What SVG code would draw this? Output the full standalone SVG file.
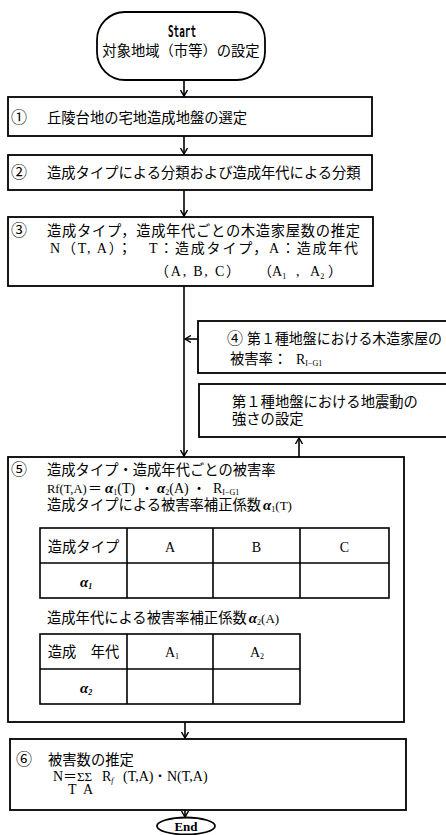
<svg xmlns="http://www.w3.org/2000/svg" width="446" height="835" viewBox="0 0 446 835">
<style>
.box{fill:none;stroke:#000;stroke-width:1.8}
.tb{fill:none;stroke:#000;stroke-width:1.6}
.ln{fill:none;stroke:#000;stroke-width:1.6}
.jp{font-family:"Noto Sans CJK JP","Noto Sans CJK SC",sans-serif;font-size:14.3px;fill:#000}
.num{font-family:"Noto Sans CJK JP","Noto Sans CJK SC",sans-serif;font-size:16px;fill:#000}
.se{font-family:"Liberation Serif","Noto Sans CJK JP",serif;font-size:14px;fill:#000}
.al{font-family:"Liberation Serif",serif;font-size:15px;font-style:italic;font-weight:bold;fill:#000}
.ali{font-family:"Liberation Serif",serif;font-style:italic;font-weight:bold}
.rm{font-family:"Liberation Serif",serif;font-style:normal;font-weight:normal;font-size:13px}
.sub{font-size:8px}
</style>
<defs>
<marker id="ah" markerWidth="8" markerHeight="8" refX="6" refY="4" orient="auto" markerUnits="userSpaceOnUse">
<path d="M0,0.5 L6,4 L0,7.5" fill="none" stroke="#000" stroke-width="1.4"/>
</marker>
</defs>
<rect width="446" height="835" fill="#fff"/>

<g id="connectors">
<line class="ln" x1="184" y1="80" x2="184" y2="96" marker-end="url(#ah)"/>
<line class="ln" x1="184" y1="136" x2="184" y2="154" marker-end="url(#ah)"/>
<line class="ln" x1="184" y1="190" x2="184" y2="216" marker-end="url(#ah)"/>
<line class="ln" x1="184" y1="286" x2="184" y2="456" marker-end="url(#ah)"/>
<line class="ln" x1="198" y1="339" x2="185" y2="339" marker-end="url(#ah)"/>
<line class="ln" x1="299" y1="457" x2="299" y2="438" marker-end="url(#ah)"/>
<line class="ln" x1="185" y1="722" x2="185" y2="738" marker-end="url(#ah)"/>
<line class="ln" x1="185" y1="810" x2="185" y2="817" marker-end="url(#ah)"/>
</g>

<g id="start">
<rect class="box" x="97" y="12" width="168" height="68" rx="28" ry="28"/>
<text x="182" y="37" text-anchor="middle" font-family="DejaVu Sans Mono,monospace" font-weight="bold" font-size="15" textLength="28" lengthAdjust="spacingAndGlyphs">Start</text>
<text class="jp" x="181" y="56" text-anchor="middle">対象地域（市等）の設定</text>
</g>

<g id="n1">
<rect class="box" x="8" y="97" width="364" height="39"/>
<text class="num" x="11" y="123">①</text>
<text class="jp" x="47" y="123">丘陵台地の宅地造成地盤の選定</text>
</g>

<g id="n2">
<rect class="box" x="8" y="155" width="364" height="35"/>
<text class="num" x="11" y="178">②</text>
<text class="jp" x="47" y="178">造成タイプによる分類および造成年代による分類</text>
</g>

<g id="n3">
<rect class="box" x="8" y="217" width="365" height="69"/>
<text class="num" x="11" y="236">③</text>
<text class="jp" x="47" y="236" textLength="313" lengthAdjust="spacing">造成タイプ，造成年代ごとの木造家屋数の推定</text>
<text class="se" x="50" y="253" font-size="14.3" textLength="308" lengthAdjust="spacing">N（T, A）；　T：造成タイプ，A：造成年代</text>
<text class="se" x="155" y="276" font-size="14.3" textLength="85" lengthAdjust="spacing">（A,  B,  C）</text>
<text class="se" y="276" font-size="14.3"><tspan x="258">（A</tspan><tspan class="sub" dy="3">1</tspan><tspan x="296" dy="-3">,</tspan><tspan x="310">A</tspan><tspan class="sub" dy="3">2</tspan><tspan x="328" dy="-3">）</tspan></text>
</g>

<g id="n4">
<rect class="box" x="198" y="321" width="260" height="52"/>
<text class="num" x="227" y="344">④</text>
<text class="jp" x="247" y="344" textLength="195" lengthAdjust="spacingAndGlyphs">第１種地盤における木造家屋の</text>
<text class="jp" y="364"><tspan x="230">被害率：</tspan><tspan x="296" font-family="Liberation Serif,serif" font-size="14">R</tspan><tspan font-family="Liberation Serif,serif" class="sub" dy="2">I−G1</tspan></text>
</g>

<g id="n4b">
<rect class="box" x="199" y="384" width="260" height="53"/>
<text class="jp" x="232" y="407">第１種地盤における地震動の</text>
<text class="jp" x="232" y="424">強さの設定</text>
</g>

<g id="n5">
<rect class="box" x="8" y="457" width="396" height="265"/>
<text class="num" x="11" y="475">⑤</text>
<text class="jp" x="47" y="475">造成タイプ・造成年代ごとの被害率</text>
<text class="se" y="493" font-size="13"><tspan x="47" font-size="12.5">Rf(T,A)</tspan><tspan x="88" font-size="14">＝</tspan><tspan x="105" class="ali" font-size="15">α</tspan><tspan class="sub" dy="2">1</tspan><tspan dy="-2">(T)</tspan><tspan x="140" font-family="Noto Sans CJK JP,sans-serif" font-size="14">・</tspan><tspan x="157" class="ali" font-size="15">α</tspan><tspan class="sub" dy="2">2</tspan><tspan dy="-2">(A)</tspan><tspan x="192" font-family="Noto Sans CJK JP,sans-serif" font-size="14">・</tspan><tspan x="213" font-size="14">R</tspan><tspan class="sub" dy="2">I−G1</tspan></text>
<text class="jp" x="47" y="510">造成タイプによる被害率補正係数<tspan class="ali" font-size="15" dx="2">α</tspan><tspan class="sub" font-family="Liberation Serif,serif" dy="2">1</tspan><tspan class="rm" dy="-2">(T)</tspan></text>

<g id="table1">
<rect class="tb" x="40" y="528" width="349" height="70"/>
<line class="tb" x1="40" y1="563" x2="389" y2="563"/>
<line class="tb" x1="127" y1="528" x2="127" y2="598"/>
<line class="tb" x1="213" y1="528" x2="213" y2="598"/>
<line class="tb" x1="300" y1="528" x2="300" y2="598"/>
<text class="jp" x="83.5" y="552" text-anchor="middle">造成タイプ</text>
<text class="se" x="170" y="552" text-anchor="middle" font-size="15">A</text>
<text class="se" x="256.5" y="552" text-anchor="middle" font-size="15">B</text>
<text class="se" x="344.5" y="552" text-anchor="middle" font-size="15">C</text>
<text class="al" x="80" y="587">α<tspan class="sub" dy="2">1</tspan></text>
</g>

<text class="jp" x="47" y="623">造成年代による被害率補正係数<tspan class="ali" font-size="15" dx="2">α</tspan><tspan class="sub" font-family="Liberation Serif,serif" dy="2">2</tspan><tspan class="rm" dy="-2">(A)</tspan></text>

<g id="table2">
<rect class="tb" x="40" y="634" width="260" height="70"/>
<line class="tb" x1="40" y1="669" x2="300" y2="669"/>
<line class="tb" x1="127" y1="634" x2="127" y2="704"/>
<line class="tb" x1="213" y1="634" x2="213" y2="704"/>
<text class="jp" x="83.5" y="657" text-anchor="middle">造成　年代</text>
<text class="se" x="172" y="657" text-anchor="middle" font-size="15">A<tspan class="sub" dy="2">1</tspan></text>
<text class="se" x="257" y="657" text-anchor="middle" font-size="15">A<tspan class="sub" dy="2">2</tspan></text>
<text class="al" x="80" y="693">α<tspan class="sub" dy="2">2</tspan></text>
</g>
</g>

<g id="n6">
<rect class="box" x="10" y="739" width="396" height="71"/>
<text class="num" x="16" y="765">⑥</text>
<text class="jp" x="48" y="765">被害数の推定</text>
<text class="se" y="781" font-size="13"><tspan x="53" font-size="14">N</tspan><tspan x="63" font-size="14">＝</tspan><tspan x="77" font-size="13">ΣΣ</tspan><tspan x="102" font-size="14">R</tspan><tspan class="sub" dy="2" font-style="italic">f</tspan><tspan x="123" dy="-2">(T,A)</tspan><tspan x="154" font-family="Noto Sans CJK JP,sans-serif" font-size="12">・</tspan><tspan x="167">N(T,A)</tspan></text>
<text class="se" y="794" font-size="13"><tspan x="68">T</tspan><tspan x="83">A</tspan></text>
</g>

<g id="end">
<ellipse class="box" cx="186" cy="826" rx="29" ry="8.5"/>
<text x="186" y="831" text-anchor="middle" font-family="Liberation Serif,serif" font-weight="bold" font-size="13">End</text>
</g>
</svg>
